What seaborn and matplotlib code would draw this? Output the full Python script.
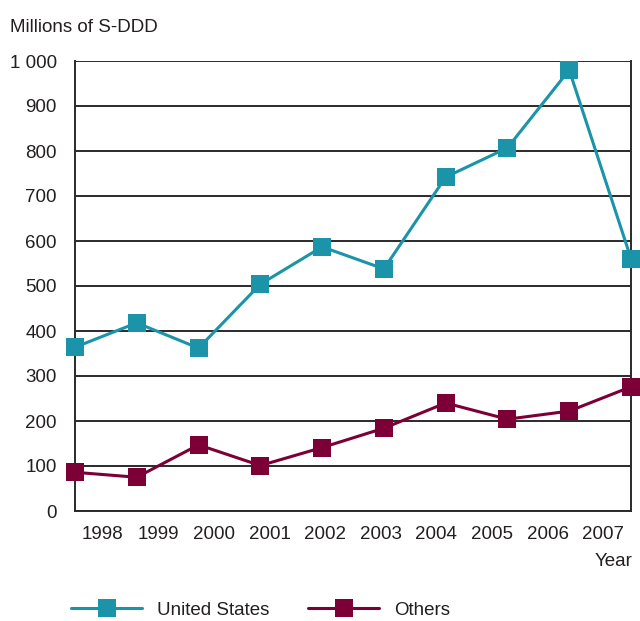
import numpy as np
import pandas as pd
import matplotlib
matplotlib.use('Agg')
import matplotlib.pyplot as plt
import seaborn as sns

years = ['1998', '1999', '2000', '2001', '2002', '2003', '2004', '2005', '2006', '2007']
united_states = [364, 418, 362, 504, 587, 538, 742, 807, 980, 561]
others = [86, 75, 147, 101, 141, 184, 240, 204, 222, 276]
y_ticks = [0, 100, 200, 300, 400, 500, 600, 700, 800, 900, 1000]
y_tick_labels = ['0', '100', '200', '300', '400', '500', '600', '700', '800', '900', '1 000']

sns.set_style('white')
plt.rcParams['font.family'] = ['Liberation Sans', 'DejaVu Sans']
fs = 13.5

df = pd.DataFrame({
    'pos': list(range(len(years))) * 2,
    'value': united_states + others,
    'series': ['United States'] * len(years) + ['Others'] * len(years),
})

fig = plt.figure(figsize=(6.4, 6.21), dpi=100)
ax = fig.add_axes([75 / 640, 1 - 511 / 621, 556 / 640, 450 / 621])

palette = {'United States': '#1b93a9', 'Others': '#7c0036'}
sns.lineplot(data=df, x='pos', y='value', hue='series', palette=palette,
             marker='s', markersize=13, markeredgewidth=0, linewidth=2.2,
             ax=ax, legend=False, clip_on=False, zorder=3)

text_color = '#231f20'
ax.set_xlim(0, len(years) - 1)
ax.set_ylim(0, 1000)
ax.set_yticks(y_ticks)
ax.set_yticklabels(y_tick_labels, fontsize=fs, color=text_color)
ax.yaxis.grid(True, color='#2a2a2a', linewidth=1.4)
ax.set_axisbelow(True)

n = len(years)
step = (n - 1) / n
ax.set_xticks([i * step for i in range(n + 1)])
ax.set_xticklabels([])
ax.set_xticks([(i + 0.5) * step for i in range(n)], minor=True)
ax.set_xticklabels(years, minor=True, fontsize=fs, color=text_color)
ax.tick_params(axis='x', which='major', length=8, width=1.4, color='#2a2a2a', direction='out')
ax.tick_params(axis='x', which='minor', length=0, pad=11)
ax.tick_params(axis='y', length=7, width=1.4, color='#2a2a2a', direction='out', pad=6)
ax.set_xlabel('')
ax.set_ylabel('')

for side in ['left', 'right', 'bottom']:
    ax.spines[side].set_visible(True)
    ax.spines[side].set_color('#2a2a2a')
    ax.spines[side].set_linewidth(1.4)
ax.spines['top'].set_visible(False)

fig.text(10 / 640, 1 - 27 / 621, 'Millions of S-DDD', fontsize=fs, color=text_color,
         ha='left', va='center')
fig.text(632 / 640, 1 - 562 / 621, 'Year', fontsize=fs, color=text_color,
         ha='right', va='center')

handles = [
    plt.Line2D([], [], color=palette['United States'], marker='s', markersize=13,
               markeredgewidth=0, linewidth=2.2),
    plt.Line2D([], [], color=palette['Others'], marker='s', markersize=13,
               markeredgewidth=0, linewidth=2.2),
]
fig.legend(handles, ['United States', 'Others'], loc='center left',
           bbox_to_anchor=(54 / 640, 1 - 610 / 621), ncol=2, frameon=False,
           fontsize=fs, handlelength=3.8, handletextpad=0.8, columnspacing=2.05,
           labelcolor=text_color)

fig.savefig('out.png', dpi=100)
